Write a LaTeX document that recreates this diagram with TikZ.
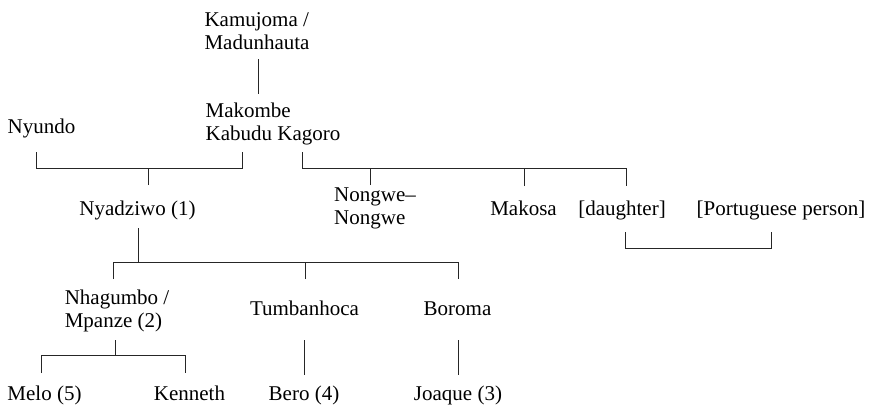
\documentclass[tikz,border=0pt]{standalone}
\usepackage{fontspec}
\setmainfont{Liberation Serif}
\usepackage{tikz}

\begin{document}
\begin{tikzpicture}[x=1pt, y=-1pt,
  person/.style={anchor=base, inner sep=0pt, align=left,
    font=\fontsize{21}{22.5}\selectfont},
  kin/.style={draw=black!85, line width=0.9pt}
]
  \useasboundingbox (0,0) rectangle (880,410);
  \node[person] (kam) at (257,49) {Kamujoma /\\Madunhauta};
  \node[person] (mak) at (273,140) {Makombe\\Kabudu Kagoro};
  \node[person] (nyu) at (41.5,133) {Nyundo};
  \node[person] (nya) at (137.5,215) {Nyadziwo (1)};
  \node[person] (non) at (375,224) {Nongwe--\\Nongwe};
  \node[person] (mks) at (523.5,215) {Makosa};
  \node[person] (dau) at (622,215) {[daughter]};
  \node[person] (por) at (781,215) {[Portuguese person]};
  \node[person] (nha) at (117,327) {Nhagumbo /\\Mpanze (2)};
  \node[person] (tum) at (304.5,315) {Tumbanhoca};
  \node[person] (bor) at (457.5,315) {Boroma};
  \node[person] (mel) at (44.5,400) {Melo (5)};
  \node[person] (ken) at (189.5,400) {Kenneth};
  \node[person] (ber) at (304,400) {Bero (4)};
  \node[person] (joa) at (458,400) {Joaque (3)};

  \coordinate (kamD) at (258,59);
  \coordinate (makU) at (258,94);
  \coordinate (nyuD) at (36,152);
  \coordinate (makD) at (242,152);
  \coordinate (nyaU) at (148,185);
  \coordinate (makR) at (302,152);
  \coordinate (nonU) at (370,185);
  \coordinate (mksU) at (524,186);
  \coordinate (dauU) at (626,186);
  \coordinate (dauD) at (625,232);
  \coordinate (porD) at (771,232);
  \coordinate (nyaD) at (138,228);
  \coordinate (nhaU) at (113,279);
  \coordinate (tumU) at (305,279);
  \coordinate (borU) at (458,279);
  \coordinate (nhaD) at (115,340);
  \coordinate (melU) at (41,373);
  \coordinate (kenU) at (185,373);
  \coordinate (tumD) at (304,340);
  \coordinate (berU) at (304,375);
  \coordinate (borD) at (458,340);
  \coordinate (joaU) at (458,375);

  \draw[kin] (kamD) -- (makU);
  \draw[kin] (nyuD) -- ++(0,16) -| (makD);
  \draw[kin] (nyaU) -- ++(0,-17);
  \draw[kin] (makR) -- ++(0,16) -| (dauU);
  \draw[kin] (nonU) -- ++(0,-17);
  \draw[kin] (mksU) -- ++(0,-18);
  \draw[kin] (dauD) -- ++(0,16) -| (porD);
  \draw[kin] (nyaD) -- ++(0,34);
  \draw[kin] (nhaU) -- ++(0,-17) -| (borU);
  \draw[kin] (tumU) -- ++(0,-17);
  \draw[kin] (nhaD) -- ++(0,15);
  \draw[kin] (melU) -- ++(0,-18) -| (kenU);
  \draw[kin] (tumD) -- (berU);
  \draw[kin] (borD) -- (joaU);
\end{tikzpicture}
\end{document}
